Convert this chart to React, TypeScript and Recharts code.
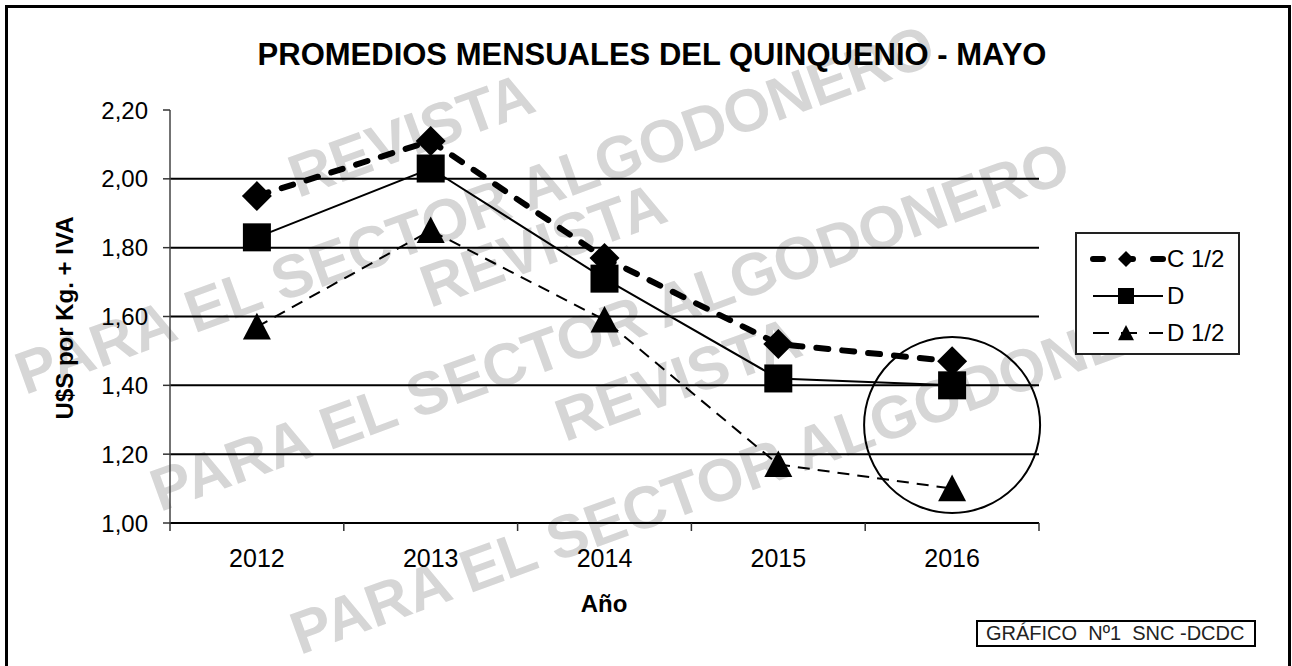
import React from 'react'
import {
  LineChart,
  Line,
  XAxis,
  YAxis,
  CartesianGrid,
  Legend,
  ReferenceDot,
} from 'recharts'

// values (US$ per kg + IVA, May averages)
const years = ['2012', '2013', '2014', '2015', '2016']
const c12 = [1.95, 2.11, 1.77, 1.52, 1.47]
const dGrade = [1.83, 2.03, 1.71, 1.42, 1.4]
const d12 = [1.57, 1.85, 1.59, 1.17, 1.1]
const yTicks = [1.0, 1.2, 1.4, 1.6, 1.8, 2.0, 2.2]
const gridValues = [1.2, 1.4, 1.6, 1.8, 2.0]

const data = years.map((year, i) => ({
  year,
  c12: c12[i],
  d: dGrade[i],
  d12: d12[i],
}))

const W = 1292
const H = 666
const PLOT_LEFT = 170
const PLOT_RIGHT = 1039
const PLOT_TOP = 110
const PLOT_BOTTOM = 523
const HALF_BAND = (PLOT_RIGHT - PLOT_LEFT) / years.length / 2
const FONT = '"Liberation Sans", Arial, sans-serif'

type Marker = 'diamond' | 'square' | 'triangle'

const series: {
  key: string
  name: string
  width: number
  dash?: string
  cap?: 'round' | 'butt'
  marker: Marker
}[] = [
  { key: 'c12', name: 'C 1/2', width: 6, dash: '12 14', cap: 'round', marker: 'diamond' },
  { key: 'd', name: 'D', width: 2, marker: 'square' },
  { key: 'd12', name: 'D 1/2', width: 2, dash: '12 8', marker: 'triangle' },
]

function markerShape(type: Marker, cx: number, cy: number, s: number) {
  if (type === 'diamond') {
    return (
      <polygon
        points={`${cx},${cy - s} ${cx + s},${cy} ${cx},${cy + s} ${cx - s},${cy}`}
        fill="#000"
      />
    )
  }
  if (type === 'square') {
    return <rect x={cx - s} y={cy - s} width={s * 2} height={s * 2} fill="#000" />
  }
  return (
    <polygon
      points={`${cx},${cy - s} ${cx + s},${cy + s * 0.9} ${cx - s},${cy + s * 0.9}`}
      fill="#000"
    />
  )
}

const makeDot = (type: Marker) => (props: any) => {
  const { cx, cy, index } = props
  if (cx == null || cy == null) return <g key={index} />
  return <g key={index}>{markerShape(type, cx, cy, type === 'diamond' ? 15 : 14)}</g>
}

const fmt = (v: number) => v.toFixed(2).replace('.', ',')

function YearTick(props: any) {
  const { x, y, payload, index } = props
  const last = index === years.length - 1
  return (
    <g>
      <line x1={x - HALF_BAND} y1={PLOT_BOTTOM} x2={x - HALF_BAND} y2={PLOT_BOTTOM + 8} stroke="#333" strokeWidth={1.5} />
      {last ? (
        <line x1={x + HALF_BAND} y1={PLOT_BOTTOM} x2={x + HALF_BAND} y2={PLOT_BOTTOM + 8} stroke="#333" strokeWidth={1.5} />
      ) : null}
      <text x={x} y={y} dy="0.71em" textAnchor="middle" fontSize={25} fill="#000" fontFamily={FONT}>
        {payload.value}
      </text>
    </g>
  )
}

function LegendBox() {
  return (
    <div
      style={{
        width: 165,
        height: 123,
        border: '2px solid #222',
        boxSizing: 'border-box',
        background: '#fff',
        paddingTop: 6,
      }}
    >
      {series.map((s) => (
        <div key={s.key} style={{ display: 'flex', alignItems: 'center', height: 37 }}>
          <svg width={86} height={24} style={{ marginLeft: 12 }}>
            <line
              x1={4}
              y1={12}
              x2={74}
              y2={12}
              stroke="#000"
              strokeWidth={s.width === 6 ? 6 : 2}
              strokeDasharray={s.key === 'c12' ? '10 20' : s.dash ? '16 12' : undefined}
              strokeLinecap={s.cap || 'butt'}
            />
            {markerShape(s.marker, 37, 12, 8)}
          </svg>
          <span style={{ fontSize: 24, fontFamily: FONT, color: '#000', marginLeft: -8 }}>{s.name}</span>
        </div>
      ))}
    </div>
  )
}

const watermarks = [
  { text: 'REVISTA', x: 298, y: 198 },
  { text: 'PARA EL SECTOR ALGODONERO', x: 25, y: 395 },
  { text: 'REVISTA', x: 430, y: 308 },
  { text: 'PARA EL SECTOR ALGODONERO', x: 160, y: 512 },
  { text: 'REVISTA', x: 565, y: 442 },
  { text: 'PARA EL SECTOR ALGODONERO', x: 300, y: 655 },
]

export default function App() {
  return (
    <div
      style={{
        position: 'absolute',
        left: 0,
        top: 0,
        width: W,
        height: H,
        overflow: 'hidden',
        background: '#fff',
        fontFamily: FONT,
      }}
    >
      <svg width={W} height={H} style={{ position: 'absolute', left: 0, top: 0 }}>
        {watermarks.map((w, i) => (
          <text
            key={i}
            x={w.x}
            y={w.y}
            transform={`rotate(-20 ${w.x} ${w.y})`}
            fontSize={60}
            fontWeight="bold"
            fill="#d6d6d6"
            fontFamily={FONT}
          >
            {w.text}
          </text>
        ))}
        <text
          x={73}
          y={318}
          transform="rotate(-90 73 318)"
          textAnchor="middle"
          fontSize={24}
          fontWeight="bold"
          fill="#000"
          fontFamily={FONT}
        >
          U$S por Kg. + IVA
        </text>
        <text x={604} y={612} textAnchor="middle" fontSize={24} fontWeight="bold" fill="#000" fontFamily={FONT}>
          Año
        </text>
      </svg>

      <div
        style={{
          position: 'absolute',
          left: 5,
          top: 5,
          width: 1286,
          height: 700,
          border: '3px solid #000',
          boxSizing: 'border-box',
        }}
      />

      <div
        style={{
          position: 'absolute',
          left: 6,
          top: 39,
          width: W,
          textAlign: 'center',
          fontSize: 31,
          lineHeight: '31px',
          fontWeight: 'bold',
          color: '#000',
        }}
      >
        PROMEDIOS MENSUALES DEL QUINQUENIO - MAYO
      </div>

      <div style={{ position: 'absolute', left: 0, top: 0 }}>
        <LineChart
          width={W}
          height={H}
          data={data}
          margin={{ top: PLOT_TOP, right: W - PLOT_RIGHT, bottom: H - PLOT_BOTTOM - 60, left: 0 }}
        >
          <CartesianGrid horizontal vertical={false} horizontalValues={gridValues} stroke="#000" strokeWidth={2} />
          <XAxis
            dataKey="year"
            height={60}
            interval={0}
            padding={{ left: HALF_BAND, right: HALF_BAND }}
            axisLine={{ stroke: '#000', strokeWidth: 2 }}
            tickLine={false}
            tickMargin={20}
            tick={<YearTick />}
          />
          <YAxis
            type="number"
            domain={[1, 2.2]}
            ticks={yTicks}
            interval={0}
            width={PLOT_LEFT}
            tickFormatter={fmt}
            tickSize={7}
            tickMargin={15}
            axisLine={{ stroke: '#444', strokeWidth: 1.5 }}
            tickLine={{ stroke: '#333', strokeWidth: 1.5 }}
            tick={{ fill: '#000', fontSize: 24, fontFamily: FONT }}
          />
          <ReferenceDot x="2016" y={1.285} r={88} fill="none" stroke="#000" strokeWidth={2} />
          {series.map((s) => (
            <Line
              key={s.key}
              type="linear"
              dataKey={s.key}
              name={s.name}
              stroke="#000"
              strokeWidth={s.width}
              strokeDasharray={s.dash}
              strokeLinecap={s.cap || 'butt'}
              dot={makeDot(s.marker)}
              activeDot={false}
              isAnimationActive={false}
            />
          ))}
          <Legend
            layout="vertical"
            align="center"
            verticalAlign="middle"
            content={() => <LegendBox />}
            wrapperStyle={{ left: 1075, top: 232, width: 165, height: 123 }}
          />
        </LineChart>
      </div>

      <div
        style={{
          position: 'absolute',
          left: 976,
          top: 620,
          width: 280,
          height: 27,
          border: '2px solid #000',
          boxSizing: 'border-box',
          fontSize: 20,
          lineHeight: '23px',
          paddingLeft: 8,
          color: '#222',
          whiteSpace: 'pre',
        }}
      >
        GRÁFICO  Nº1  SNC -DCDC
      </div>
    </div>
  )
}
